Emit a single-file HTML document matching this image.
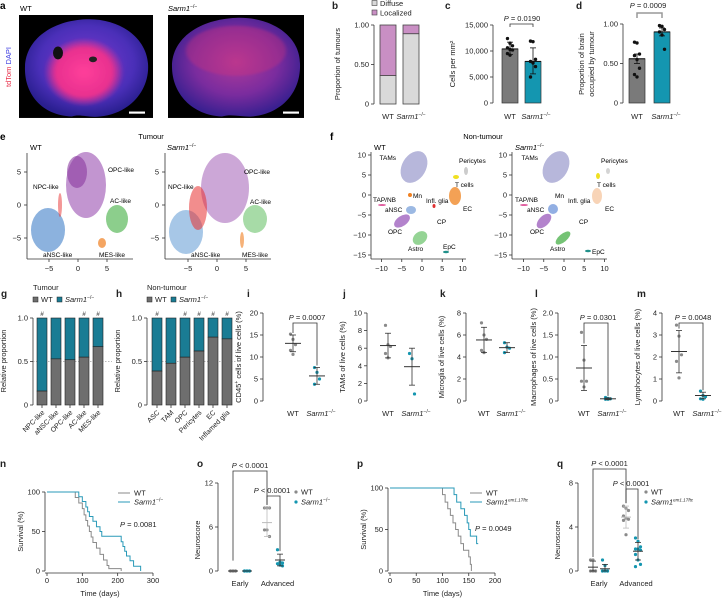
<!DOCTYPE html>
<html><head><meta charset="utf-8">
<style>
html,body{margin:0;padding:0;background:#fff;}
svg{display:block;font-family:"Liberation Sans",Arial,sans-serif;}
</style></head>
<body>
<svg id="fig" width="722" height="601" viewBox="0 0 722 601" xmlns="http://www.w3.org/2000/svg">
<defs>
<radialGradient id="brainWT" cx="50%" cy="45%" r="55%"><stop offset="0" stop-color="#7a3ad0"/><stop offset="0.7" stop-color="#4a2fb8"/><stop offset="1" stop-color="#2a1f90"/></radialGradient>
<radialGradient id="tumWT" cx="50%" cy="50%" r="50%"><stop offset="0" stop-color="#ff3f9a"/><stop offset="0.7" stop-color="#e8308f"/><stop offset="1" stop-color="#e8308f" stop-opacity="0"/></radialGradient>
<radialGradient id="brainS" cx="50%" cy="45%" r="55%"><stop offset="0" stop-color="#b03a9a"/><stop offset="0.6" stop-color="#7a2c9e"/><stop offset="1" stop-color="#3a2090"/></radialGradient>
<filter id="bl"><feGaussianBlur stdDeviation="1.5"/></filter>
</defs>

<!-- panel a -->
<g>
<text x="0" y="9" font-size="10" font-weight="bold">a</text>
<text x="20" y="11" font-size="7.5">WT</text>
<text x="168" y="11" font-size="7.5"><tspan font-style="italic">Sarm1</tspan><tspan dy="-3" font-size="5">−/−</tspan></text>
<text transform="translate(11,67) rotate(-90)" font-size="7.5" text-anchor="middle"><tspan fill="#e8304a">tdTom</tspan><tspan fill="#3a3ae0"> DAPI</tspan></text>
<g transform="translate(0,15) scale(1,0.715) translate(0,-20)">
<rect x="19" y="20" width="134" height="144" fill="#000"/>
<path d="M86,26 C118,24 146,50 148,88 C150,125 130,158 100,162 C88,164 80,158 72,162 C40,160 24,128 25,92 C26,54 52,28 86,26 Z" fill="url(#brainWT)"/>
<ellipse cx="84" cy="100" rx="40" ry="48" fill="url(#tumWT)" filter="url(#bl)"/>
<ellipse cx="58" cy="73" rx="5" ry="9" fill="#111"/>
<circle cx="93" cy="82" r="4" fill="#222"/>
<rect x="129" y="155" width="16" height="3" fill="#fff"/>
<rect x="168" y="20" width="136" height="144" fill="#000"/>
<path d="M236,24 C270,22 300,48 300,88 C301,128 282,158 252,162 C242,163 232,158 222,162 C192,160 172,130 172,92 C172,52 200,26 236,24 Z" fill="url(#brainS)"/>
<ellipse cx="236" cy="70" rx="50" ry="35" fill="#d0307a" opacity="0.35" filter="url(#bl)"/>
<rect x="283" y="155" width="16" height="3" fill="#fff"/>
</g>
</g>

<!-- panel e UMAP -->
<g font-size="6.5">
<text x="0" y="140" font-size="10" font-weight="bold">e</text>
<text x="151" y="139" font-size="7.5" text-anchor="middle">Tumour</text>
<text x="30" y="150" font-size="7.5">WT</text>
<text x="167" y="150" font-size="7.5"><tspan font-style="italic">Sarm1</tspan><tspan dy="-3" font-size="5">−/−</tspan></text>
<g stroke="none">
<ellipse cx="86" cy="185" rx="20" ry="33" fill="#9a4fb0" opacity="0.6"/>
<ellipse cx="77" cy="172" rx="10" ry="16" fill="#8a3aa0" opacity="0.6"/>
<ellipse cx="48" cy="230" rx="17" ry="22" fill="#3f7fc8" opacity="0.6"/>
<ellipse cx="117" cy="219" rx="11" ry="14" fill="#3fae3f" opacity="0.6"/>
<ellipse cx="102" cy="243" rx="4" ry="5" fill="#f07f20" opacity="0.7"/>
<ellipse cx="60" cy="205" rx="2" ry="12" fill="#e83030" opacity="0.5"/>
</g>
<g>
<ellipse cx="225" cy="188" rx="24" ry="35" fill="#9a4fb0" opacity="0.5"/>
<ellipse cx="186" cy="232" rx="17" ry="22" fill="#4f8fd0" opacity="0.5"/>
<ellipse cx="198" cy="208" rx="9" ry="22" fill="#e83030" opacity="0.55"/>
<ellipse cx="255" cy="219" rx="12" ry="14" fill="#4fb84f" opacity="0.5"/>
<ellipse cx="242" cy="240" rx="2" ry="8" fill="#f07f20" opacity="0.6"/>
</g>
<text x="108" y="172">OPC-like</text>
<text x="33" y="189">NPC-like</text>
<text x="110" y="203">AC-like</text>
<text x="43" y="257">aNSC-like</text>
<text x="99" y="257">MES-like</text>
<text x="244" y="174">OPC-like</text>
<text x="168" y="189">NPC-like</text>
<text x="250" y="204">AC-like</text>
<text x="191" y="257">aNSC-like</text>
<text x="242" y="257">MES-like</text>
</g>

<!-- panel f UMAP -->
<g font-size="6.5">
<text x="330" y="140" font-size="10" font-weight="bold">f</text>
<text x="483" y="139" font-size="7.5" text-anchor="middle">Non-tumour</text>
<text x="374" y="150" font-size="7.5">WT</text>
<text x="515" y="150" font-size="7.5"><tspan font-style="italic">Sarm1</tspan><tspan dy="-3" font-size="5">−/−</tspan></text>
<g>
<ellipse cx="414" cy="167" rx="12" ry="17" transform="rotate(30 414 167)" fill="#7070b8" opacity="0.5"/>
<ellipse cx="456" cy="177" rx="3" ry="2" fill="#f0e020"/>
<ellipse cx="466" cy="171" rx="2" ry="4" fill="#aaa" opacity="0.6"/>
<ellipse cx="410" cy="195" rx="2" ry="2" fill="#f08020"/>
<ellipse cx="455" cy="196" rx="6" ry="9" fill="#f08a2a" opacity="0.8"/>
<ellipse cx="434" cy="206" rx="1.5" ry="2" fill="#e03030"/>
<ellipse cx="382" cy="205" rx="4" ry="1" fill="#e060a0"/>
<ellipse cx="411" cy="210" rx="5" ry="4" fill="#5a8ad0" opacity="0.6"/>
<ellipse cx="402" cy="221" rx="9" ry="5" transform="rotate(-35 402 221)" fill="#8a40b0" opacity="0.65"/>
<ellipse cx="420" cy="238" rx="8" ry="6" transform="rotate(-40 420 238)" fill="#4fb84f" opacity="0.6"/>
<ellipse cx="446" cy="252" rx="3" ry="1.2" fill="#20908a"/>
</g>
<g>
<ellipse cx="556" cy="167" rx="12" ry="17" transform="rotate(30 556 167)" fill="#7070b8" opacity="0.5"/>
<ellipse cx="598" cy="176" rx="2" ry="3" fill="#f0e020"/>
<ellipse cx="608" cy="171" rx="2" ry="3" fill="#aaa" opacity="0.5"/>
<ellipse cx="597" cy="196" rx="5" ry="8" fill="#f0a060" opacity="0.45"/>
<ellipse cx="524" cy="205" rx="4" ry="1" fill="#e060a0"/>
<ellipse cx="553" cy="209" rx="5" ry="5" fill="#4a7ad0" opacity="0.6"/>
<ellipse cx="544" cy="221" rx="9" ry="5" transform="rotate(-45 544 221)" fill="#8a40b0" opacity="0.65"/>
<ellipse cx="563" cy="238" rx="9" ry="4" transform="rotate(-40 563 238)" fill="#3aaa3a" opacity="0.7"/>
<ellipse cx="588" cy="251" rx="3" ry="1.2" fill="#20908a"/>
</g>
<text x="396" y="160" text-anchor="end">TAMs</text>
<text x="459" y="163">Pericytes</text>
<text x="455" y="187">T cells</text>
<text x="413" y="198">Mn</text>
<text x="373" y="202">TAP/NB</text>
<text x="426" y="203">Infl. glia</text>
<text x="385" y="212">aNSC</text>
<text x="463" y="211">EC</text>
<text x="437" y="224">CP</text>
<text x="388" y="234">OPC</text>
<text x="408" y="251">Astro</text>
<text x="443" y="249">EpC</text>
<text x="538" y="160" text-anchor="end">TAMs</text>
<text x="601" y="163">Pericytes</text>
<text x="597" y="187">T cells</text>
<text x="555" y="198">Mn</text>
<text x="515" y="202">TAP/NB</text>
<text x="568" y="203">Infl. glia</text>
<text x="527" y="212">aNSC</text>
<text x="605" y="211">EC</text>
<text x="579" y="224">CP</text>
<text x="530" y="234">OPC</text>
<text x="550" y="251">Astro</text>
<text x="592" y="254">EpC</text>
</g>
</svg>
<script>
// ---------- data ----------
const bDiffuse = [0.36, 0.89];
const cMeans = [10400, 8000];
const cLo = [9300, 5600];
const cHi = [11700, 10600];
const cWT = [12400, 11500, 11000, 10600, 10300, 10200, 9500, 9200];
const cS = [11900, 11800, 8400, 8000, 7700, 7000, 5000];
const cTicks = [0, 5000, 10000, 15000];
const cTickLabels = ['0', '5,000', '10,000', '15,000'];
const dMeans = [0.56, 0.90];
const dLo = [0.50, 0.85];
const dHi = [0.62, 0.95];
const dWT = [0.77, 0.76, 0.62, 0.60, 0.55, 0.44, 0.36, 0.33];
const dS = [0.98, 0.97, 0.93, 0.90, 0.86, 0.68];
const gCats = ['NPC-like', 'aNSC-like', 'OPC-like', 'AC-like', 'MES-like'];
const gWT = [0.16, 0.53, 0.52, 0.55, 0.67];
const gHash = [1, 0, 0, 1, 1];
const hCats = ['ASC', 'TAM', 'OPC', 'Pericytes', 'EC', 'Inflamed glia'];
const hWT = [0.39, 0.48, 0.55, 0.62, 0.78, 0.76];
const hHash = [1, 0, 1, 1, 1, 1];
const iWT = [15.2, 14.0, 12.8, 11.5, 10.6];
const iS = [7.6, 6.5, 5.0, 3.8];
const iStats = [13.1, 11.2, 15.0, 5.7, 3.8, 7.6];
const jWT = [8.6, 6.4, 6.2, 5.4, 4.9];
const jS = [5.4, 4.8, 0.8];
const jStats = [6.3, 4.9, 7.7, 3.9, 1.8, 6.0];
const kWT = [7.1, 6.0, 5.6, 4.6, 4.4];
const kS = [5.3, 4.9, 4.8, 4.4];
const kStats = [5.55, 4.4, 6.7, 4.85, 4.4, 5.3];
const lWT = [1.56, 0.93, 0.45, 0.45, 0.32];
const lS = [0.08, 0.06, 0.05, 0.04, 0.04];
const lStats = [0.75, 0.24, 1.26, 0.05, 0.03, 0.07];
const mWT = [3.45, 2.95, 2.1, 1.8, 1.05];
const mS = [0.45, 0.25, 0.2, 0.1, 0.08];
const mStats = [2.25, 1.28, 3.2, 0.25, 0.1, 0.4];
const nWTt = [0, 80, 90, 100, 105, 110, 115, 120, 125, 130, 140, 150, 160, 170, 175, 210];
const nWTs = [100, 93, 86, 79, 71, 64, 57, 50, 43, 36, 29, 21, 14, 7, 3, 0];
const nSt = [0, 90, 100, 110, 115, 120, 130, 140, 150, 155, 210, 215, 220, 225, 235, 245, 265];
const nSs = [100, 94, 88, 81, 75, 69, 63, 56, 50, 44, 37, 31, 25, 19, 13, 6, 0];
const oEarlyWT = [0, 0, 0, 0, 0, 0];
const oEarlyS = [0, 0, 0, 0, 0, 0];
const oAdvWT = [8.6, 8.6, 8.6, 5.6, 5.6, 4.7];
const oAdvS = [2.9, 1.2, 1.1, 1.0, 0.8, 0.7];
const oStats = [[0, 0, 0], [0, 0, 0], [6.6, 4.7, 8.6], [1.5, 0.7, 2.3]];
const pWTt = [0, 97, 100, 105, 110, 115, 120, 125, 130, 135, 140, 150, 153, 155];
const pWTs = [100, 100, 92, 83, 75, 67, 58, 50, 42, 33, 25, 17, 8, 0];
const pSt = [0, 120, 122, 127, 135, 142, 147, 150, 153, 165, 168];
const pSs = [100, 100, 92, 83, 75, 67, 58, 50, 42, 33, 33];
const qEarlyWT = [1, 1, 0, 0, 0, 0];
const qEarlyS = [1, 0.5, 0, 0, 0, 0, 0];
const qAdvWT = [5.9, 5.7, 5.5, 5.0, 4.8, 4.7, 4.6, 3.3];
const qAdvS = [3.0, 2.7, 2.2, 2.0, 2.0, 1.9, 1.5, 1.0, 0.6, 0.4];
const qStats = [[0.35, 0, 0.9], [0.2, 0, 0.6], [4.9, 3.9, 5.9], [1.8, 1.0, 2.6]];

// ---------- helpers ----------
const NS = 'http://www.w3.org/2000/svg';
const FIG = document.getElementById('fig');
const GRAY = '#7a7a7a', TEAL = '#1496b0', TEALD = '#1a7c94', DOTG = '#8a8a8a', AX = '#333';
function mk(tag, attrs, name) {
  const el = document.createElementNS(NS, tag);
  for (const k in attrs) el.setAttribute(k, attrs[k]);
  
  
  FIG.appendChild(el);
  return el;
}
function ln(x1, y1, x2, y2, name, c, w) { return mk('line', {x1, y1, x2, y2, stroke: c || AX, 'stroke-width': w || 0.8}, name); }
function tx(x, y, s, name, o) {
  o = o || {};
  const el = mk('text', {x, y, 'font-size': o.fs || 7.5, 'text-anchor': o.a || 'start', fill: o.fill || '#222'}, name);
  if (o.rot) el.setAttribute('transform', 'rotate(' + o.rot + ' ' + x + ' ' + y + ')');
  if (o.bold) el.setAttribute('font-weight', 'bold');
  if (o.html) el.innerHTML = s; else el.textContent = s;
  return el;
}
const SARM = '<tspan font-style="italic">Sarm1</tspan><tspan dy="-3" font-size="5">−/−</tspan>';
const SARMFL = '<tspan font-style="italic">Sarm1</tspan><tspan dy="-3" font-size="4.5" font-style="italic">em1.1Tftc</tspan>';
function yAxis(x, yf, ticks, labels, name) {
  ln(x, yf(ticks[0]), x, yf(ticks[ticks.length - 1]), name + '-line');
  ticks.forEach((t, i) => {
    ln(x - 3, yf(t), x, yf(t), name + '-tick');
    tx(x - 5, yf(t) + 2.5, labels[i], name + '-tick-label', {a: 'end'});
  });
}
function pText(x, y, s, name) { return tx(x, y, '<tspan font-style="italic">P</tspan> ' + s, name, {html: true, a: 'middle'}); }
function bracket(x1, x2, y, yb1, yb2, name) {
  mk('polyline', {points: x1 + ',' + yb1 + ' ' + x1 + ',' + y + ' ' + x2 + ',' + y + ' ' + x2 + ',' + yb2, fill: 'none', stroke: AX, 'stroke-width': 0.8}, name);
}
function errBar(x, yf, m, lo, hi, name, c, w) {
  ln(x, yf(lo), x, yf(hi), name + '-whisker', c);
  ln(x - 3, yf(lo), x + 3, yf(lo), name + '-cap-low', c);
  ln(x - 3, yf(hi), x + 3, yf(hi), name + '-cap-high', c);
  ln(x - (w || 8), yf(m), x + (w || 8), yf(m), name + '-mean', c, 1);
}
function dots(x, yf, arr, c, name, r) {
  arr.forEach((v, i) => {
    const off = ((i % 3) - 1) * 2.5;
    mk('circle', {cx: x + off, cy: yf(v), r: r || 1.6, fill: c}, name);
  });
}

// ---------- panel letters ----------
[['b', 332], ['c', 445], ['d', 576]].forEach(p => tx(p[1], 9, p[0], 'panel-label-' + p[0], {fs: 10, bold: true}));

// ---------- b ----------
(function () {
  const yf = v => 104 - v * 79;
  yAxis(374, yf, [0, 0.5, 1], ['0', '0.50', '1.00'], 'b-y-axis');
  tx(340, 64, 'Proportion of tumours', 'b-y-axis-title', {a: 'middle', rot: -90});
  const xs = [380, 403];
  bDiffuse.forEach((v, i) => {
    mk('rect', {x: xs[i], y: yf(v), width: 16, height: yf(0) - yf(v), fill: '#d9d9d9', stroke: '#444', 'stroke-width': 0.8}, 'b-bar-diffuse');
    mk('rect', {x: xs[i], y: yf(1), width: 16, height: yf(v) - yf(1), fill: '#c98fc4', stroke: '#444', 'stroke-width': 0.8}, 'b-bar-localized');
  });
  tx(388, 119, 'WT', 'b-x-label-wt', {a: 'middle'});
  tx(411, 119, SARM, 'b-x-label-sarm1', {a: 'middle', html: true});
  mk('rect', {x: 372, y: 0.5, width: 5, height: 5, fill: '#d9d9d9', stroke: '#444', 'stroke-width': 0.6}, 'b-legend-diffuse-swatch');
  tx(380, 6, 'Diffuse', 'b-legend-diffuse');
  mk('rect', {x: 372, y: 10, width: 5, height: 5, fill: '#c98fc4', stroke: '#444', 'stroke-width': 0.6}, 'b-legend-localized-swatch');
  tx(380, 15.5, 'Localized', 'b-legend-localized');
})();

// ---------- c ----------
(function () {
  const yf = v => 103 - v / 15000 * 78;
  yAxis(493, yf, cTicks, cTickLabels, 'c-y-axis');
  tx(455, 64, 'Cells per mm²', 'c-y-axis-title', {a: 'middle', rot: -90});
  const xs = [510, 533], cols = [GRAY, TEAL];
  cMeans.forEach((m, i) => mk('rect', {x: xs[i] - 8, y: yf(m), width: 16, height: yf(0) - yf(m), fill: cols[i], stroke: '#333', 'stroke-width': 0.7}, 'c-bar'));
  dots(xs[0], yf, cWT, '#111', 'c-dot-wt', 1.7);
  dots(xs[1], yf, cS, '#111', 'c-dot-sarm1', 1.7);
  errBar(xs[0], yf, cMeans[0], cLo[0], cHi[0], 'c-err-wt', '#111', 0);
  errBar(xs[1], yf, cMeans[1], cLo[1], cHi[1], 'c-err-sarm1', '#111', 0);
  tx(510, 119, 'WT', 'c-x-label-wt', {a: 'middle'});
  tx(536, 119, SARM, 'c-x-label-sarm1', {a: 'middle', html: true});
  bracket(510, 533, 24, 27, 27, 'c-sig-bracket');
  pText(522, 21, '= 0.0190', 'c-p-value');
})();

// ---------- d ----------
(function () {
  const yf = v => 103 - v * 79;
  yAxis(623, yf, [0, 0.5, 1], ['0', '0.50', '1.00'], 'd-y-axis');
  tx(584, 64, 'Proportion of brain', 'd-y-axis-title-1', {a: 'middle', rot: -90});
  tx(594, 64, 'occupied by tumour', 'd-y-axis-title-2', {a: 'middle', rot: -90});
  const xs = [637, 662], cols = [GRAY, TEAL];
  dMeans.forEach((m, i) => mk('rect', {x: xs[i] - 8, y: yf(m), width: 16, height: yf(0) - yf(m), fill: cols[i], stroke: '#333', 'stroke-width': 0.7}, 'd-bar'));
  dots(xs[0], yf, dWT, '#111', 'd-dot-wt', 1.7);
  dots(xs[1], yf, dS, '#111', 'd-dot-sarm1', 1.7);
  errBar(xs[0], yf, dMeans[0], dLo[0], dHi[0], 'd-err-wt', '#111', 0);
  errBar(xs[1], yf, dMeans[1], dLo[1], dHi[1], 'd-err-sarm1', '#111', 0);
  tx(637, 119, 'WT', 'd-x-label-wt', {a: 'middle'});
  tx(666, 119, SARM, 'd-x-label-sarm1', {a: 'middle', html: true});
  mk('polyline', {points: '637,18 637,13 662,13 662,18', fill: 'none', stroke: '#999', 'stroke-width': 1.5}, 'd-sig-bracket');
  pText(648, 8, '= 0.0009', 'd-p-value');
})();

// ---------- e/f axes ----------
(function () {
  [[27, 78, 'e-wt'], [165, 217, 'e-sarm1']].forEach(a => {
    const yf = v => 205 - v * 6.6, xf = v => a[1] + v * 5.8;
    ln(a[0], 153, a[0], 259, a[2] + '-y-axis-line');
    ln(a[0], 259, a[0] + 106, 259, a[2] + '-x-axis-line');
    [-5, 0, 5].forEach(t => {
      ln(a[0] - 3, yf(t), a[0], yf(t), a[2] + '-y-tick');
      tx(a[0] - 6, yf(t) + 2.5, t === -5 ? '−5' : String(t), a[2] + '-y-tick-label', {a: 'end'});
      ln(xf(t), 259, xf(t), 262, a[2] + '-x-tick');
      tx(xf(t), 271, t === -5 ? '−5' : String(t), a[2] + '-x-tick-label', {a: 'middle'});
    });
  });
  [[371, 422, 'f-wt'], [512, 564, 'f-sarm1']].forEach(a => {
    const yf = v => 195 - v * 4, xf = v => a[1] + v * 4.05;
    ln(a[0], 152, a[0], 259, a[2] + '-y-axis-line');
    ln(a[0], 259, a[0] + 95, 259, a[2] + '-x-axis-line');
    [-15, -10, -5, 0, 5, 10].forEach(t => {
      ln(a[0] - 3, yf(t), a[0], yf(t), a[2] + '-y-tick');
      tx(a[0] - 5, yf(t) + 2.5, String(t).replace('-', '−'), a[2] + '-y-tick-label', {a: 'end'});
    });
    [-10, -5, 0, 5, 10].forEach(t => {
      ln(xf(t), 259, xf(t), 262, a[2] + '-x-tick');
      tx(xf(t), 271, String(t).replace('-', '−'), a[2] + '-x-tick-label', {a: 'middle'});
    });
  });
})();

// ---------- g/h stacked ----------
function stacked(ax, xs, cats, wt, hash, title, letter, lx) {
  const yf = v => 405 - v * 87;
  tx(lx, 297, letter, 'panel-label-' + letter, {fs: 10, bold: true});
  tx(ax, 290, title, letter + '-title');
  yAxis(ax, yf, [0, 0.5, 1], ['0', '0.5', '1.0'], letter + '-y-axis');
  tx(ax - 27, 361, 'Relative proportion', letter + '-y-axis-title', {a: 'middle', rot: -90});
  ln(ax, yf(0.5), xs[xs.length - 1] + 14, yf(0.5), letter + '-reference-line', '#777', 0.6).setAttribute('stroke-dasharray', '1.5,1.5');
  cats.forEach((c, i) => {
    mk('rect', {x: xs[i] - 5, y: yf(1), width: 10, height: yf(wt[i]) - yf(1), fill: TEALD, stroke: '#222', 'stroke-width': 0.6}, letter + '-bar-sarm1');
    mk('rect', {x: xs[i] - 5, y: yf(wt[i]), width: 10, height: yf(0) - yf(wt[i]), fill: '#6e6e6e', stroke: '#222', 'stroke-width': 0.6}, letter + '-bar-wt');
    ln(xs[i], 405, xs[i], 408, letter + '-x-tick');
    tx(xs[i] + 3, 413, c, letter + '-category-label', {a: 'end', rot: -45, fs: 7});
    if (hash[i]) tx(xs[i], 316, '#', letter + '-significance-mark', {a: 'middle', fs: 6.5});
  });
  mk('rect', {x: ax, y: 297, width: 5, height: 5, fill: '#6e6e6e', stroke: '#222', 'stroke-width': 0.5}, letter + '-legend-wt-swatch');
  tx(ax + 8, 302, 'WT', letter + '-legend-wt');
  mk('rect', {x: ax + 24, y: 297, width: 5, height: 5, fill: TEALD, stroke: '#222', 'stroke-width': 0.5}, letter + '-legend-sarm1-swatch');
  tx(ax + 32, 302, SARM, letter + '-legend-sarm1', {html: true});
}
stacked(33, [42, 56, 70, 84, 98], gCats, gWT, gHash, 'Tumour', 'g', 1);
stacked(147, [157, 171, 185, 199, 213, 227], hCats, hWT, hHash, 'Non-tumour', 'h', 116);

// ---------- i-m scatter ----------
function scat(letter, lx, ax, xw, xs, max, ticks, labels, wt, s, st, ytitle, pv) {
  const yf = v => 401 - v / max * 88;
  tx(lx, 297, letter, 'panel-label-' + letter, {fs: 10, bold: true});
  yAxis(ax, yf, ticks, labels, letter + '-y-axis');
  tx(ax - 22, 357, ytitle, letter + '-y-axis-title', {a: 'middle', rot: -90, html: true});
  dots(xw, yf, wt, DOTG, letter + '-dot-wt');
  dots(xs, yf, s, TEAL, letter + '-dot-sarm1');
  errBar(xw, yf, st[0], st[1], st[2], letter + '-err-wt', '#333');
  errBar(xs, yf, st[3], st[4], st[5], letter + '-err-sarm1', '#333');
  tx(xw, 416, 'WT', letter + '-x-label-wt', {a: 'middle'});
  tx(xs + 4, 416, SARM, letter + '-x-label-sarm1', {a: 'middle', html: true});
  if (pv) {
    bracket(xw, xs, 323, yf(st[2]) - 2, yf(st[5]) - 2, letter + '-sig-bracket');
    pText((xw + xs) / 2 + 2, 320, pv, letter + '-p-value');
  }
}
scat('i', 247, 263, 293, 317, 20, [0, 5, 10, 15, 20], ['0', '5', '10', '15', '20'], iWT, iS, iStats, 'CD45<tspan dy="-3" font-size="5">+</tspan><tspan dy="3"> cells of live cells (%)</tspan>', '= 0.0007');
scat('j', 343, 367, 388, 412, 10, [0, 2, 4, 6, 8, 10], ['0', '2', '4', '6', '8', '10'], jWT, jS, jStats, 'TAMs of live cells (%)', null);
scat('k', 440, 466, 484, 507, 8, [0, 2, 4, 6, 8], ['0', '2', '4', '6', '8'], kWT, kS, kStats, 'Microglia of live cells (%)', null);
scat('l', 535, 558, 584, 608, 2, [0, 0.5, 1, 1.5, 2], ['0', '0.5', '1.0', '1.5', '2.0'], lWT, lS, lStats, 'Macrophages of live cells (%)', '= 0.0301');
scat('m', 637, 662, 679, 703, 4, [0, 1, 2, 3, 4], ['0', '1', '2', '3', '4'], mWT, mS, mStats, 'Lymphocytes of live cells (%)', '= 0.0048');

// ---------- n/p KM ----------
function km(letter, lx, x0, xsc, y0, ysc, xticks, wtT, wtS, sT, sS, pv, lab2, legX, pX, pY) {
  const xf = t => x0 + t * xsc, yf = s => y0 - s * ysc;
  tx(lx, 467, letter, 'panel-label-' + letter, {fs: 10, bold: true});
  yAxis(x0 - 2, yf, [0, 50, 100], ['0', '50', '100'], letter + '-y-axis');
  ln(x0 - 2, y0 + 2, xf(xticks[xticks.length - 1]), y0 + 2, letter + '-x-axis-line');
  xticks.forEach(t => { ln(xf(t), y0 + 2, xf(t), y0 + 5, letter + '-x-tick'); tx(xf(t), y0 + 12, String(t), letter + '-x-tick-label', {a: 'middle'}); });
  tx((x0 + xf(xticks[xticks.length - 1])) / 2, y0 + 25, 'Time (days)', letter + '-x-axis-title', {a: 'middle'});
  tx(x0 - 24, (y0 + yf(100)) / 2, 'Survival (%)', letter + '-y-axis-title', {a: 'middle', rot: -90});
  function steps(T, S) { let p = xf(T[0]) + ',' + yf(S[0]); for (let i = 1; i < T.length; i++) p += ' ' + xf(T[i]) + ',' + yf(S[i - 1]) + ' ' + xf(T[i]) + ',' + yf(S[i]); return p; }
  mk('polyline', {points: steps(wtT, wtS), fill: 'none', stroke: '#8a8a8a', 'stroke-width': 1}, letter + '-km-line-wt');
  mk('polyline', {points: steps(sT, sS), fill: 'none', stroke: '#2a9ab8', 'stroke-width': 1}, letter + '-km-line-sarm1');
  ln(legX, 493, legX + 12, 493, letter + '-legend-wt-line', '#8a8a8a', 1);
  tx(legX + 16, 495.5, 'WT', letter + '-legend-wt');
  ln(legX, 502, legX + 12, 502, letter + '-legend-sarm1-line', '#2a9ab8', 1);
  tx(legX + 16, 504.5, lab2, letter + '-legend-sarm1', {html: true});
  tx(pX, pY, '<tspan font-style="italic">P</tspan> ' + pv, letter + '-p-value', {html: true});
}
km('n', 0, 47, 106 / 300, 571, 0.79, [0, 100, 200, 300], nWTt, nWTs, nSt, nSs, '= 0.0081', SARM, 118, 120, 527);
km('p', 357, 390, 105 / 200, 571, 0.83, [0, 50, 100, 150, 200], pWTt, pWTs, pSt, pSs, '= 0.0049', SARMFL, 470, 475, 531);

// ---------- o/q neuroscore ----------
function neuro(letter, lx, ax, xs, max, ticks, ewt, es, awt, as, st, lab2, legX, b1y, b2y) {
  const yf = v => 571 - v / max * 88;
  tx(lx, 467, letter, 'panel-label-' + letter, {fs: 10, bold: true});
  yAxis(ax, yf, ticks, ticks.map(String), letter + '-y-axis');
  tx(ax - 18, 540, 'Neuroscore', letter + '-y-axis-title', {a: 'middle', rot: -90});
  const sets = [ewt, es, awt, as], cols = [DOTG, TEAL, DOTG, TEAL];
  sets.forEach((arr, i) => {
    dots(xs[i], yf, arr, cols[i], letter + '-dot');
    errBar(xs[i], yf, st[i][0], st[i][1], st[i][2], letter + '-err', i === 2 ? '#bbb' : '#333', 5);
  });
  tx((xs[0] + xs[1]) / 2, 586, 'Early', letter + '-x-label-early', {a: 'middle'});
  tx((xs[2] + xs[3]) / 2 + 4, 586, 'Advanced', letter + '-x-label-advanced', {a: 'middle'});
  bracket(xs[0], xs[2], b1y, yf(1) - 3, yf(st[2][2]) - 3, letter + '-sig-bracket-early');
  pText((xs[0] + xs[2]) / 2, b1y - 3, '< 0.0001', letter + '-p-value-early');
  bracket(xs[2], xs[3], b2y, yf(st[2][2]) - 3, yf(st[3][2]) - 3, letter + '-sig-bracket-advanced');
  pText(xs[2] + 5, b2y - 3, '< 0.0001', letter + '-p-value-advanced');
  mk('circle', {cx: legX, cy: 492, r: 1.6, fill: DOTG}, letter + '-legend-wt-dot');
  tx(legX + 5, 494.5, 'WT', letter + '-legend-wt');
  mk('circle', {cx: legX, cy: 502, r: 1.6, fill: TEAL}, letter + '-legend-sarm1-dot');
  tx(legX + 5, 504.5, lab2, letter + '-legend-sarm1', {html: true});
}
neuro('o', 197, 218, [233, 247, 267, 280], 12, [0, 6, 12], oEarlyWT, oEarlyS, oAdvWT, oAdvS, oStats, SARM, 296, 471, 496);
neuro('q', 557, 578, [593, 605, 626, 638], 8, [0, 4, 8], qEarlyWT, qEarlyS, qAdvWT, qAdvS, qStats, SARMFL, 646, 469, 489);
</script>
</body></html>
